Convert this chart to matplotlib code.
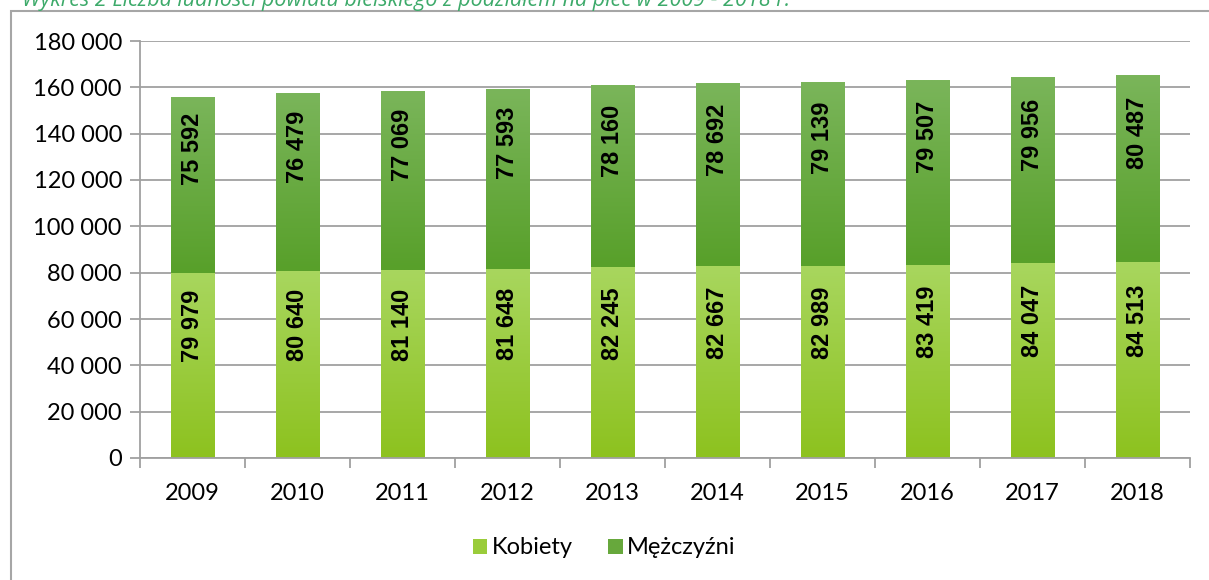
import matplotlib
matplotlib.use("Agg")
import matplotlib.pyplot as plt
import numpy as np
from matplotlib.patches import Rectangle
from matplotlib.colors import LinearSegmentedColormap

years = ["2009", "2010", "2011", "2012", "2013", "2014", "2015", "2016", "2017", "2018"]
kobiety = [79979, 80640, 81140, 81648, 82245, 82667, 82989, 83419, 84047, 84513]
mezczyzni = [75592, 76479, 77069, 77593, 78160, 78692, 79139, 79507, 79956, 80487]
yticks = [0, 20000, 40000, 60000, 80000, 100000, 120000, 140000, 160000, 180000]

def fmt(v):
    return f"{v:,}".replace(",", " ")

plt.rcParams['font.family'] = ['Lato', 'DejaVu Sans']

fig = plt.figure(figsize=(12.09, 5.8), dpi=100)
ax = fig.add_axes([140/1209, 1-458/580, 1050/1209, 417/580])

# outer frame
frame = Rectangle((11/1209, -0.05), 1.2, 1 - 11/580 + 0.05, transform=fig.transFigure,
                  fill=False, edgecolor='#A6A6A6', linewidth=1.5, zorder=0)
fig.patches.append(frame)

fig.text(22/1209, 1 - 6/580, "Wykres 2 Liczba ludności powiatu bielskiego z podziałem na płeć w 2009 - 2018 r.",
         color='#3DAA6A', fontsize=15.5, style='italic', ha='left', va='baseline',
         family=['Open Sans', 'DejaVu Sans'])

x = np.arange(len(years))
w = 0.41
cm_k = LinearSegmentedColormap.from_list('k', ['#8DC21F', '#A8D65E'])
cm_m = LinearSegmentedColormap.from_list('m', ['#58A02A', '#7AB55A'])
grad = np.linspace(0, 1, 100).reshape(-1, 1)

lab_font = ['Liberation Sans', 'DejaVu Sans']
for i in range(len(years)):
    k = kobiety[i]
    m = mezczyzni[i]
    ax.imshow(grad, cmap=cm_k, origin='lower', aspect='auto',
              extent=(x[i]-w/2, x[i]+w/2, 0, k), zorder=2)
    ax.imshow(grad, cmap=cm_m, origin='lower', aspect='auto',
              extent=(x[i]-w/2, x[i]+w/2, k, k+m), zorder=2)
    ax.text(x[i], k/2 + 17000, fmt(k), rotation=90, ha='center', va='center',
            fontsize=17, fontweight='bold', family=lab_font, zorder=3)
    ax.text(x[i], k + m/2 + 15500, fmt(m), rotation=90, ha='center', va='center',
            fontsize=17, fontweight='bold', family=lab_font, zorder=3)

ax.set_xlim(-0.5, len(years)-0.5)
ax.set_ylim(0, 180000)
ax.set_yticks(yticks)
ax.set_yticklabels([fmt(v) for v in yticks], fontsize=17)
ax.set_xticks(x)
ax.set_xticklabels(years, fontsize=17)
ax.set_xticks(np.arange(-0.5, len(years)), minor=True)
ax.tick_params(axis='x', which='major', length=0, pad=18)
ax.tick_params(axis='x', which='minor', length=7, color='#A0A0A0', width=1.3)
ax.tick_params(axis='y', length=7, color='#A0A0A0', width=1.3, pad=6)
ax.grid(axis='y', color='#A0A0A0', linewidth=1.3, zorder=1)
ax.set_axisbelow(True)
for s in ['top', 'right']:
    ax.spines[s].set_visible(False)
for s in ['left', 'bottom']:
    ax.spines[s].set_color('#A0A0A0')
    ax.spines[s].set_linewidth(1.3)

h1 = Rectangle((0, 0), 1, 1, facecolor='#9ACC3A')
h2 = Rectangle((0, 0), 1, 1, facecolor='#67A83C')
fig.legend([h1, h2], ["Kobiety", "Mężczyźni"], loc='center', bbox_to_anchor=(0.5, 1 - 548/580),
           ncol=2, frameon=False, fontsize=17, handlelength=0.6, handleheight=0.6,
           handletextpad=0.2, columnspacing=1.5)

fig.savefig("out.png", dpi=100)
